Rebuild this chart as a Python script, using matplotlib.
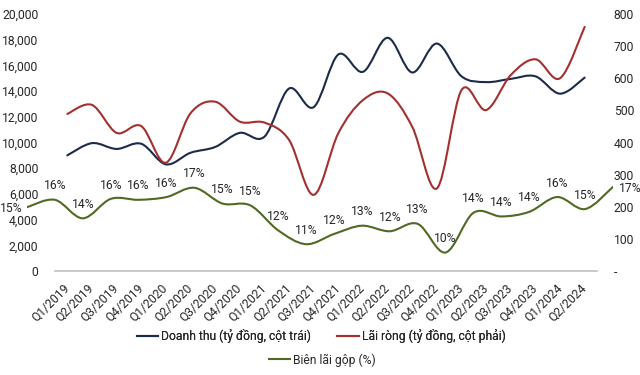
import numpy as np
import matplotlib
matplotlib.use("Agg")
import matplotlib.pyplot as plt
from matplotlib.path import Path
from matplotlib.patches import PathPatch
from matplotlib.lines import Line2D
from matplotlib.ticker import FuncFormatter

plt.rcParams['font.family'] = ['Roboto', 'DejaVu Sans']
plt.rcParams['font.size'] = 8.7

quarters = ["Q1/2019", "Q2/2019", "Q3/2019", "Q4/2019",
            "Q1/2020", "Q2/2020", "Q3/2020", "Q4/2020",
            "Q1/2021", "Q2/2021", "Q3/2021", "Q4/2021",
            "Q1/2022", "Q2/2022", "Q3/2022", "Q4/2022",
            "Q1/2023", "Q2/2023", "Q3/2023", "Q4/2023",
            "Q1/2024", "Q2/2024"]
# ty dong, left axis
doanh_thu = [9000, 9950, 9500, 9900, 8300, 9200, 9650, 10750, 10450, 14200, 12750,
             16850, 15500, 18150, 15450, 17700, 15150, 14700, 14950, 15150, 13800, 15050]
# ty dong, right axis
lai_rong = [489, 517, 430, 451, 337, 491, 527, 465, 462, 408, 237,
            429, 532, 553, 449, 257, 563, 501, 610, 659, 600, 760]
# %
bien_lai_gop = [14.8, 15.6, 13.6, 15.7, 15.6, 15.9, 16.9, 15.2, 15.0, 12.3, 10.8,
                11.9, 12.8, 12.2, 13.0, 9.9, 14.2, 13.8, 14.3, 15.9, 14.6, 17.0]

c_dt = "#1c2a4a"
c_lr = "#a3302f"
c_bl = "#4f6a22"
c_txt = "#262626"
fs = 8.7


def smooth_path(x, y):
    # catmull-rom turned into bezier pieces, like excel "smoothed line"
    x = np.asarray(x, float)
    y = np.asarray(y, float)
    n = len(x)
    verts = [(x[0], y[0])]
    codes = [Path.MOVETO]
    for i in range(n - 1):
        i0 = max(i - 1, 0)
        i3 = min(i + 2, n - 1)
        c1 = (x[i] + (x[i + 1] - x[i0]) / 6, y[i] + (y[i + 1] - y[i0]) / 6)
        c2 = (x[i + 1] - (x[i3] - x[i]) / 6, y[i + 1] - (y[i3] - y[i]) / 6)
        verts += [c1, c2, (x[i + 1], y[i + 1])]
        codes += [Path.CURVE4] * 3
    return Path(verts, codes)


def add_line(ax, y, color):
    p = PathPatch(smooth_path(range(len(y)), y), fill=False, edgecolor=color,
                  lw=1.5, capstyle='round', joinstyle='round')
    ax.add_patch(p)


W, H = 640, 375
fig = plt.figure(figsize=(6.4, 3.75), dpi=100)
ax = fig.add_axes([55 / W, 1 - 271 / H, 542 / W, 257 / H])
ax2 = ax.twinx()
ax3 = fig.add_axes([27 / W, 1 - 271 / H, 586 / W, 257 / H])

x = np.arange(len(quarters))
add_line(ax, doanh_thu, c_dt)
add_line(ax2, lai_rong, c_lr)
add_line(ax3, bien_lai_gop, c_bl)

ax.set_xlim(-0.5, len(quarters) - 0.5)
ax.set_ylim(0, 20000)
ax.set_yticks(range(0, 20001, 2000))
ax.yaxis.set_major_formatter(FuncFormatter(lambda v, p: f"{v:,.0f}"))
ax2.set_ylim(0, 800)
ax2.set_yticks(range(0, 801, 100))
ax2.yaxis.set_major_formatter(FuncFormatter(lambda v, p: "-" if v == 0 else f"{v:.0f}"))

ax.set_xticks(x)
ax.set_xticklabels(quarters, rotation=45, ha='right', va='center', rotation_mode='anchor')

for a in (ax, ax2):
    for s in a.spines.values():
        s.set_visible(False)
    a.tick_params(length=0, colors=c_txt, labelsize=fs)
ax.spines['bottom'].set_visible(True)
ax.spines['bottom'].set_color("#bfbfbf")
ax.spines['bottom'].set_linewidth(1.2)
ax.tick_params(axis='y', pad=12)
ax.tick_params(axis='x', pad=11)
ax2.tick_params(axis='y', pad=12)

ax3.set_xlim(0, len(quarters) - 1)
ax3.set_ylim(7.9, 35.7)
ax3.axis('off')
ax3.patch.set_alpha(0)
for i, v in enumerate(bien_lai_gop):
    if i == 0:
        ax3.annotate(f"{v:.0f}%", (i, v), xytext=(-3, -1), textcoords='offset points',
                     ha='right', va='center', color=c_txt, fontsize=fs)
    elif i == len(bien_lai_gop) - 1:
        ax3.annotate(f"{v:.0f}%", (i, v), xytext=(4, -1.5), textcoords='offset points',
                     ha='left', va='center', color=c_txt, fontsize=fs)
    else:
        ax3.annotate(f"{v:.0f}%", (i, v), xytext=(0, 10), textcoords='offset points',
                     ha='center', va='center', color=c_txt, fontsize=fs)

h1 = Line2D([], [], color=c_dt, lw=1.5)
h2 = Line2D([], [], color=c_lr, lw=1.5)
h3 = Line2D([], [], color=c_bl, lw=1.5)
leg1 = fig.legend([h1, h2], ["Doanh thu (tỷ đồng, cột trái)", "Lãi ròng (tỷ đồng, cột phải)"],
                  loc='center', bbox_to_anchor=(321 / W, 1 - 336 / H), ncol=2, frameon=False,
                  handlelength=1.8, handletextpad=0.2, columnspacing=2.2, fontsize=fs,
                  labelcolor=c_txt, borderpad=0, borderaxespad=0)
leg2 = fig.legend([h3], ["Biên lãi gộp (%)"],
                  loc='center', bbox_to_anchor=(322 / W, 1 - 360 / H), frameon=False,
                  handlelength=1.8, handletextpad=0.2, fontsize=fs,
                  labelcolor=c_txt, borderpad=0, borderaxespad=0)
fig.add_artist(leg1)

fig.savefig("out.png", dpi=100)
